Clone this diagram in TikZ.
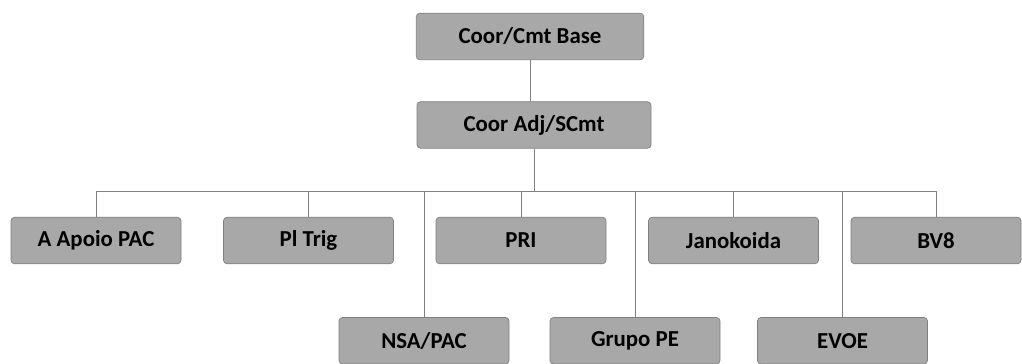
\documentclass[tikz,border=0pt]{standalone}
\usepackage{fontspec}
\setmainfont{Carlito}
\usepackage{tikz}
\usetikzlibrary{positioning}
\definecolor{boxgray}{RGB}{168,168,168}
\definecolor{edgegray}{RGB}{128,128,128}
\tikzset{orgbox/.style={rectangle, rounded corners=2pt, draw=edgegray, fill=boxgray, thin, minimum width=3.4cm, minimum height=0.93cm, font=\fontsize{13}{15}\selectfont\bfseries},
  topbox/.style={orgbox, minimum width=4.55cm},
  link/.style={draw=edgegray, thin},}

\begin{document}
\begin{tikzpicture}[node distance=4.25cm]
\useasboundingbox (0,0) rectangle (20.44,-7.28);
\node [topbox] (base) at (10.6,-0.73) {Coor/Cmt Base};
\node [topbox, minimum width=4.68cm] (adj) at (10.68,-2.5) {Coor Adj/SCmt};
\node [orgbox] (apoio) at (1.92,-4.81) {A Apoio PAC};
\node [orgbox] (trig) [right of=apoio] {Pl Trig};
\node [orgbox] (pri) [right of=trig] {PRI};
\node [orgbox] (jano) [right of=pri] {Janokoida};
\node [orgbox] (bv) [right of=jano, node distance=4.05cm] {BV8};
\node [orgbox] (nsa) at (8.48,-6.815) {NSA/PAC};
\node [orgbox] (grupo) [right of=nsa, node distance=4.22cm] {Grupo PE};
\node [orgbox] (evoe) [right of=grupo, node distance=4.15cm] {EVOE};
\coordinate (bus) at (10.55,-3.82);
\draw[link] (base.south) -- (base.south |- adj.north);
\draw[link] (adj.south) -- (adj.south |- bus);
\draw[link] (apoio.north) |- (bus -| bv.north) -- (bv.north);
\draw[link] (trig.north) -- (trig.north |- bus);
\draw[link] (pri.north) -- (pri.north |- bus);
\draw[link] (jano.north) -- (jano.north |- bus);
\draw[link] (nsa.north) -- (nsa.north |- bus);
\draw[link] (grupo.north) -- (grupo.north |- bus);
\draw[link] (evoe.north) -- (evoe.north |- bus);
\end{tikzpicture}
\end{document}
